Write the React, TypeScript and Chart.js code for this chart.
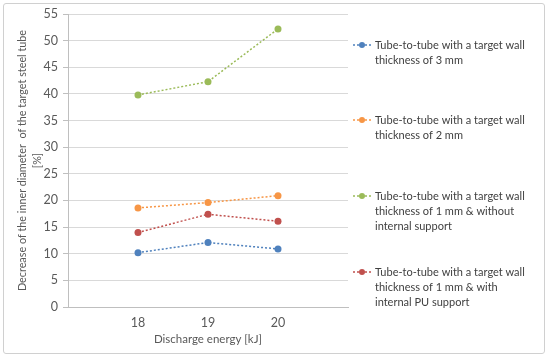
import React, { useEffect, useRef } from "react";
import { Chart, registerables } from "chart.js";

Chart.register(...registerables);

const energies = [18, 19, 20];
const wall3mm = [10.2, 12.1, 10.9];
const wall2mm = [18.6, 19.6, 20.9];
const wall1mmNoSupport = [39.8, 42.3, 52.2];
const wall1mmPU = [14.0, 17.4, 16.1];
const yTicks = [0, 5, 10, 15, 20, 25, 30, 35, 40, 45, 50, 55];

const seriesLabels = [
  ["Tube-to-tube with a target wall", "thickness of 3 mm"],
  ["Tube-to-tube with a target wall", "thickness of 2 mm"],
  ["Tube-to-tube with a target wall", "thickness of 1 mm & without", "internal support"],
  ["Tube-to-tube with a target wall", "thickness of 1 mm & with", "internal PU support"],
];
const seriesColors = ["#4F81BD", "#F79646", "#9BBB59", "#C0504D"];
const seriesValues = [wall3mm, wall2mm, wall1mmNoSupport, wall1mmPU];

const FONT = "Lato, 'Noto Sans', sans-serif";
const TEXT = "#595959";

const legendPlugin = {
  id: "sideLegend",
  afterDraw(chart: any) {
    const ctx = chart.ctx;
    const ys = [45, 120, 196, 272];
    ctx.save();
    chart.data.datasets.forEach((ds: any, i: number) => {
      const y = ys[i];
      ctx.strokeStyle = ds.borderColor;
      ctx.lineWidth = 1.5;
      ctx.setLineDash([2, 2]);
      ctx.beginPath();
      ctx.moveTo(353, y);
      ctx.lineTo(372, y);
      ctx.stroke();
      ctx.setLineDash([]);
      ctx.fillStyle = ds.backgroundColor;
      ctx.beginPath();
      ctx.arc(362, y, 3, 0, Math.PI * 2);
      ctx.fill();
      ctx.fillStyle = "#404040";
      ctx.font = `11px ${FONT}`;
      ctx.textBaseline = "middle";
      ctx.textAlign = "left";
      const lines: string[] = ds.legendLines;
      lines.forEach((t, j) => ctx.fillText(t, 375, y + j * 15));
    });
    ctx.restore();
  },
};

export default function App() {
  const ref = useRef<HTMLCanvasElement>(null);
  useEffect(() => {
    document.body.style.margin = "0";
    const chart = new Chart(ref.current as HTMLCanvasElement, {
      type: "line",
      data: {
        datasets: seriesValues.map((vals, i) => ({
          label: seriesLabels[i].join(" "),
          legendLines: seriesLabels[i],
          data: energies.map((e, k) => ({ x: e, y: vals[k] })),
          borderColor: seriesColors[i],
          backgroundColor: seriesColors[i],
          borderWidth: 1.5,
          borderDash: [2, 2],
          pointRadius: 3.5,
          pointBorderWidth: 0,
          fill: false,
        })) as any,
      },
      options: {
        animation: false,
        responsive: false,
        layout: { padding: { top: 14, right: 202, bottom: 10, left: 15 } },
        plugins: { legend: { display: false }, tooltip: { enabled: false } },
        scales: {
          x: {
            type: "linear",
            min: 17,
            max: 21,
            afterBuildTicks: (s: any) => {
              s.ticks = energies.map((v) => ({ value: v }));
            },
            afterFit: (s: any) => {
              s.height = 43;
            },
            grid: { display: false, drawTicks: false },
            border: { color: "#bfbfbf" },
            ticks: { color: TEXT, font: { family: FONT, size: 12.5 }, padding: 8 },
            title: {
              display: true,
              text: "Discharge energy [kJ]",
              color: TEXT,
              font: { family: FONT, size: 11.5 },
              padding: { top: 5 },
            },
          },
          y: {
            min: 0,
            max: 55,
            afterBuildTicks: (s: any) => {
              s.ticks = yTicks.map((v) => ({ value: v }));
            },
            afterFit: (s: any) => {
              s.width = 53;
            },
            grid: { color: "#d9d9d9", tickLength: 5, tickColor: "#bfbfbf" },
            border: { color: "#bfbfbf" },
            ticks: { color: TEXT, font: { family: FONT, size: 12.5 }, padding: 5 },
            title: {
              display: true,
              text: ["Decrease of the inner diameter  of the target steel tube", "[%]"],
              color: TEXT,
              font: { family: FONT, size: 10.8, lineHeight: 1.4 },
              padding: 0,
            },
          },
        },
      } as any,
      plugins: [legendPlugin],
    });
    return () => chart.destroy();
  }, []);
  return (
    <div style={{ position: "absolute", left: 0, top: 0, width: 550, height: 360, background: "#fff" }}>
      <canvas ref={ref} width={550} height={360} style={{ position: "absolute", left: 0, top: 0 }} />
      <div
        style={{
          position: "absolute",
          left: 3,
          top: 3,
          width: 540,
          height: 349,
          border: "1px solid #d0d0d0",
          borderRadius: 3,
          pointerEvents: "none",
        }}
      />
    </div>
  );
}
